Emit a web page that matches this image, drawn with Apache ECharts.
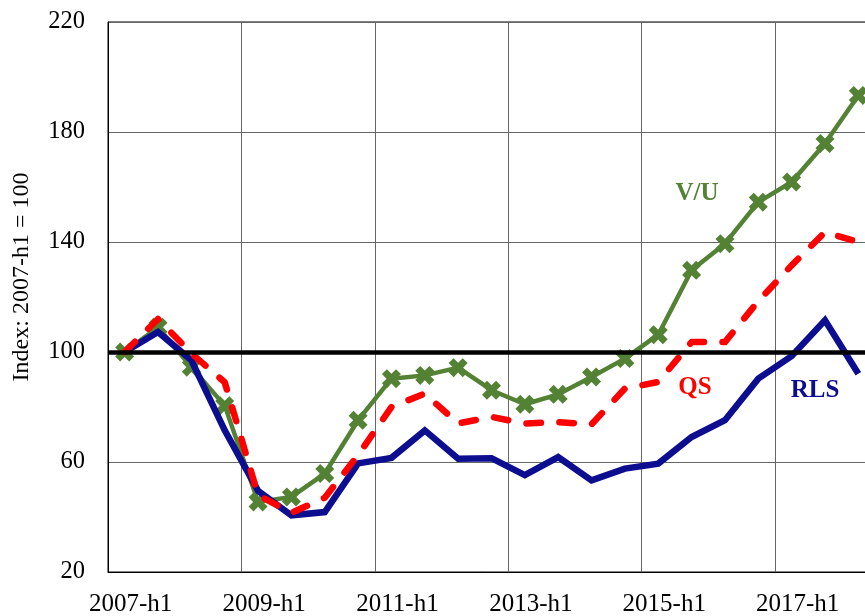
<!DOCTYPE html>
<html>
<head>
<meta charset="utf-8">
<title>Index: 2007-h1 = 100</title>
<script src="https://cdn.jsdelivr.net/npm/echarts@6/dist/echarts.min.js"></script>
<style>
  html, body { margin: 0; padding: 0; background: #fff; }
  #chart { width: 865px; height: 616px; }
</style>
</head>
<body>
<div id="chart"></div>
<script>
// Half-year periods, 2007-h1 to 2018-h1
var periods = [
  '2007-h1', '2007-h2', '2008-h1', '2008-h2', '2009-h1', '2009-h2',
  '2010-h1', '2010-h2', '2011-h1', '2011-h2', '2012-h1', '2012-h2',
  '2013-h1', '2013-h2', '2014-h1', '2014-h2', '2015-h1', '2015-h2',
  '2016-h1', '2016-h2', '2017-h1', '2017-h2', '2018-h1'
];

// Vacancy / unemployment ratio
var vuIndex = [
  100, 109, 94.5, 80.5, 45.5, 47.3, 55.8, 75.2, 90.3, 91.5, 94.3, 86.1,
  81, 84.6, 90.9, 97.6, 106.3, 129.7, 139.4, 154.5, 161.8, 175.8, 193.3
];

// Quits
var qsIndex = [
  100, 112, 99.5, 89, 48, 41.5, 47, 62.5, 80, 84.9, 74, 76.4,
  74, 74.5, 73.7, 86.7, 89.1, 103.6, 103.6, 118.5, 131.5, 143.6, 140
];

// Layoffs
var rlsIndex = [
  100, 107.3, 97, 71.5, 49.5, 40.6, 41.8, 59.5, 61.5, 71.5, 61.2, 61.4,
  55.2, 61.8, 53.3, 57.6, 59.4, 69.1, 75.2, 90.3, 98.5, 111.5, 92.1
];

// Value axis
var yMin = 20, yMax = 220, yStep = 40;
var baseLevel = 100;

var serif = "'Liberation Serif', 'Times New Roman', serif";
var colVU = '#548235', colQS = '#ff0000', colRLS = '#0d0d8f';

// thick "x" marker
var crossMark = 'path://M0,2.6L2.6,0L5,2.4L7.4,0L10,2.6L7.6,5L10,7.4L7.4,10L5,7.6L2.6,10L0,7.4L2.4,5Z';

var chart = echarts.init(document.getElementById('chart'), null, { renderer: 'canvas' });

chart.setOption({
  animation: false,
  backgroundColor: '#fff',
  grid: {
    left: 108, top: 22, bottom: 44, right: -10,
    outerBoundsMode: 'none',
    containLabel: false,
    show: true, borderColor: '#000', borderWidth: 1
  },
  xAxis: {
    type: 'category',
    data: periods,
    boundaryGap: true,
    axisLine: { lineStyle: { color: '#000', width: 1 } },
    axisTick: { show: false, interval: 3 },
    axisLabel: {
      interval: 3,
      margin: 20,
      color: '#000',
      fontFamily: serif,
      fontSize: 25,
      padding: [0, 0, 0, 12]
    },
    splitLine: { show: true, interval: 3, lineStyle: { color: '#666', width: 1 } }
  },
  yAxis: {
    type: 'value',
    min: yMin, max: yMax, interval: yStep,
    name: 'Index: 2007-h1 = 100',
    nameLocation: 'middle',
    nameRotate: 90,
    nameGap: 74,
    nameTextStyle: { color: '#000', fontFamily: serif, fontSize: 24, padding: [0, 0, 0, 40] },
    axisLine: { show: true, lineStyle: { color: '#000', width: 1 } },
    axisTick: { show: false },
    axisLabel: { margin: 23, color: '#000', fontFamily: serif, fontSize: 24.5 },
    splitLine: { show: true, lineStyle: { color: '#666', width: 1 } }
  },
  series: [
    {
      name: 'base',
      type: 'line',
      data: [],
      z: 1,
      silent: true,
      markLine: {
        silent: true,
        symbol: 'none',
        label: { show: false },
        lineStyle: { color: '#000', width: 4.5, type: 'solid' },
        data: [{ yAxis: baseLevel }]
      }
    },
    {
      name: 'V/U',
      type: 'line',
      data: vuIndex,
      z: 2,
      symbol: crossMark,
      symbolSize: 19,
      showAllSymbol: true,
      itemStyle: { color: colVU, borderWidth: 0 },
      lineStyle: { color: colVU, width: 4.5 }
    },
    {
      name: 'RLS',
      type: 'line',
      data: rlsIndex,
      z: 3,
      symbol: 'none',
      lineStyle: { color: colRLS, width: 6.5, join: 'miter' }
    },
    {
      name: 'QS',
      type: 'line',
      data: qsIndex,
      z: 4,
      symbol: 'none',
      lineStyle: { color: colQS, width: 6.5, type: [14.5, 18.5], cap: 'round', join: 'round' }
    }
  ],
  graphic: [
    { type: 'text', x: 697, y: 194, z: 10,
      style: { text: 'V/U', font: 'bold 25px ' + serif, fill: colVU, align: 'center', verticalAlign: 'middle' } },
    { type: 'text', x: 695, y: 388, z: 10,
      style: { text: 'QS', font: 'bold 25px ' + serif, fill: colQS, align: 'center', verticalAlign: 'middle' } },
    { type: 'text', x: 815, y: 391, z: 10,
      style: { text: 'RLS', font: 'bold 25px ' + serif, fill: colRLS, align: 'center', verticalAlign: 'middle' } }
  ]
});
</script>
</body>
</html>
